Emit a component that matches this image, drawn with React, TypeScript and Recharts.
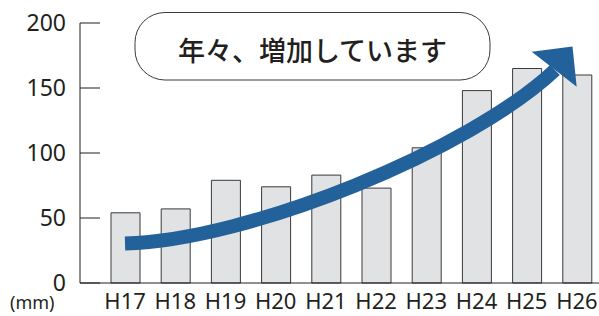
import { BarChart, Bar, XAxis, YAxis } from "recharts";

const years = ["H17", "H18", "H19", "H20", "H21", "H22", "H23", "H24", "H25", "H26"];
const rainfall = [54, 57, 79, 74, 83, 73, 104, 148, 165, 160];
const yTicks = [0, 50, 100, 150, 200];
const unitLabel = "(mm)";
const message = "年々、増加しています";

const data = years.map((name, i) => ({ name, value: rainfall[i] }));

const textColor = "#231f20";

function YTick(props: any) {
  const { x, y, payload } = props;
  return (
    <g>
      <line x1={x} x2={x + 20} y1={y} y2={y} stroke={textColor} strokeWidth={1} />
      <text
        x={x - 14}
        y={y}
        dy="0.36em"
        textAnchor="end"
        fontSize={23}
        fontFamily="'Noto Sans', sans-serif"
        fill={textColor}
      >
        {payload.value}
      </text>
    </g>
  );
}

function XTick(props: any) {
  const { x, y, payload } = props;
  return (
    <text
      x={x}
      y={y + 26}
      textAnchor="middle"
      fontSize={22}
      fontFamily="'Noto Sans', sans-serif"
      fill={textColor}
    >
      {payload.value}
    </text>
  );
}

export default function App() {
  return (
    <div
      style={{
        position: "absolute",
        left: 0,
        top: 0,
        width: 599,
        height: 316,
        overflow: "hidden",
        background: "#fff",
      }}
    >
      <BarChart
        width={602}
        height={316}
        data={data}
        margin={{ top: 23, right: 0, left: 0, bottom: 0 }}
      >
        <XAxis
          dataKey="name"
          height={33}
          padding={{ left: 20, right: 0 }}
          tickLine={false}
          tickSize={0}
          tickMargin={0}
          axisLine={{ stroke: textColor, strokeWidth: 1 }}
          tick={<XTick />}
          interval={0}
        />
        <YAxis
          width={80}
          domain={[0, 200]}
          ticks={yTicks}
          tickLine={false}
          tickSize={0}
          tickMargin={0}
          axisLine={{ stroke: textColor, strokeWidth: 1 }}
          tick={<YTick />}
        />
        <Bar
          dataKey="value"
          barSize={29}
          fill="#e1e2e4"
          stroke="#3a3a3a"
          strokeWidth={1}
          isAnimationActive={false}
        />
      </BarChart>
      <svg
        width={599}
        height={316}
        style={{ position: "absolute", left: 0, top: 0, pointerEvents: "none" }}
      >
        {/* trend arrow */}
        <path
          d="M125,243.5 C250,240 470,150 555,70"
          fill="none"
          stroke="#23619b"
          strokeWidth={14}
        />
        <polygon points="531.7,51.7 572.5,46.5 576.7,86.7" fill="#23619b" />
        {/* message box */}
        <rect
          x={135}
          y={12.5}
          width={355}
          height={67.5}
          rx={30}
          ry={30}
          fill="#fff"
          stroke="#3a3a3a"
          strokeWidth={1}
        />
        <text
          x={312.5}
          y={49}
          textAnchor="middle"
          dominantBaseline="central"
          fontSize={27}
          fontWeight={500}
          fontFamily="'Noto Sans CJK JP', sans-serif"
          fill={textColor}
        >
          {message}
        </text>
        <text
          x={10}
          y={309}
          fontSize={18}
          fontFamily="'Noto Sans', sans-serif"
          fill={textColor}
        >
          {unitLabel}
        </text>
      </svg>
    </div>
  );
}
